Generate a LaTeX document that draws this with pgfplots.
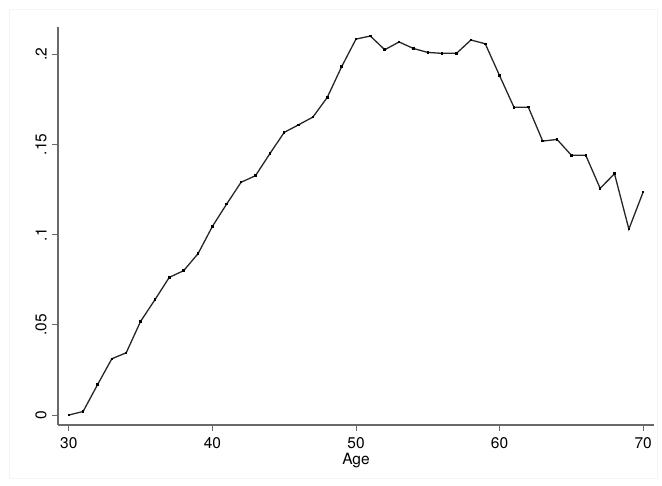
\documentclass[border=0pt]{standalone}
\usepackage{fontspec}
\setmainfont{TeX Gyre Heros}
\usepackage{pgfplots}
\pgfplotsset{compat=1.18}
\definecolor{axgray}{RGB}{105,105,105}
\definecolor{framegray}{RGB}{244,244,244}
\begin{document}
\fontsize{15.5pt}{18pt}\selectfont
\begin{tikzpicture}[x=1pt,y=1pt]
\path[use as bounding box] (0,0) rectangle (662,486);
\draw[framegray,line width=0.8pt] (9,8) rectangle (657,477);
\begin{axis}[
  at={(58pt,61pt)}, anchor=south west,
  scale only axis, width=596pt, height=398pt,
  xmin=29.25, xmax=70.75,
  ymin=-0.0055, ymax=0.215,
  axis x line*=bottom, axis y line*=left,
  axis line style={axgray, line width=1.2pt, -},
  xtick={30,40,50,60,70},
  ytick={0,0.05,0.1,0.15,0.2},
  yticklabels={0,.05,.1,.15,.2},
  yticklabel style={rotate=90, anchor=south, yshift=0pt},
  tick style={axgray, line width=1pt},
  tick align=outside,
  major tick length=6pt,
  xticklabel style={yshift=-1pt},
  /pgf/number format/assume math mode=true,
  xlabel={Age},
  xlabel style={yshift=6pt},
  font=\fontsize{15.5pt}{18pt}\selectfont,
  clip=false,
]
\addplot[black!85, line width=1.3pt, mark=square*, mark size=0.6pt, mark options={black}] coordinates {
(30,0.0000) (31,0.0020) (32,0.0168) (33,0.0312) (34,0.0345) (35,0.0519)
(36,0.0639) (37,0.0763) (38,0.0800) (39,0.0894) (40,0.1045) (41,0.1170)
(42,0.1290) (43,0.1326) (44,0.1448) (45,0.1566) (46,0.1608) (47,0.1651)
(48,0.1760) (49,0.1930) (50,0.2083) (51,0.2100) (52,0.2024) (53,0.2067)
(54,0.2031) (55,0.2009) (56,0.2004) (57,0.2004) (58,0.2078) (59,0.2057)
(60,0.1880) (61,0.1705) (62,0.1706) (63,0.1518) (64,0.1527) (65,0.1439)
(66,0.1439) (67,0.1256) (68,0.1337) (69,0.1030) (70,0.1237)
};
\end{axis}
\end{tikzpicture}
\end{document}
